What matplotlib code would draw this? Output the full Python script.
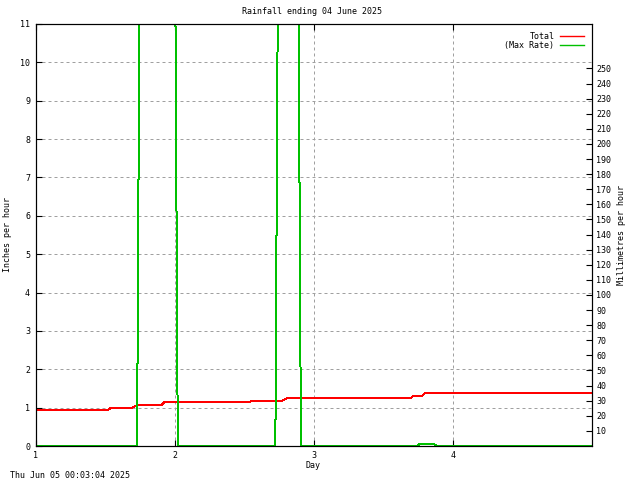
import matplotlib
matplotlib.use("Agg")
import matplotlib.pyplot as plt

# rainfall total (inches)
total_day = [1.0, 1.519, 1.534, 1.685, 1.707, 1.735, 1.901, 1.923, 2.536, 2.543,
             2.766, 2.781, 2.802, 3.697, 3.711, 3.776, 3.787, 3.797, 5.0]
total_in = [0.946, 0.946, 0.983, 0.983, 1.025, 1.061, 1.061, 1.139, 1.139, 1.165,
            1.165, 1.20, 1.24, 1.24, 1.295, 1.295, 1.33, 1.38, 1.38]

# max rate (inches per hour), peaks run off the top of the chart
rate_day = [1.0, 1.727, 1.745, 2.002, 2.020, 2.722, 2.740, 2.888, 2.906,
            3.74, 3.76, 3.86, 3.89, 5.0]
rate_in = [0, 0, 12, 12, 0, 0, 12, 12, 0, 0, 0.05, 0.05, 0, 0]

x_ticks = [1, 2, 3, 4]
y_ticks = list(range(0, 12))
mm_ticks = list(range(10, 260, 10))

title = "Rainfall ending 04 June 2025"
stamp = "Thu Jun 05 00:03:04 2025"

plt.rcParams['font.family'] = ['DejaVu Sans Mono']
plt.rcParams['font.size'] = 6

W, H = 640, 480
fig = plt.figure(figsize=(6.4, 4.8), dpi=100)
ax = fig.add_axes([36 / W, 1 - 446 / H, (592 - 36) / W, (446 - 24) / H])

ax.plot(total_day, total_in, color="#ff0000", lw=0.72, antialiased=False, label="Total")
ax.plot(rate_day, rate_in, color="#00c000", lw=0.72, antialiased=False, label="(Max Rate)")

ax.set_xlim(1, 5)
ax.set_ylim(0, 11)
ax.set_xticks(x_ticks)
ax.set_yticks(y_ticks)
ax.tick_params(direction="in", length=4.3, width=0.8, top=True, right=False)
ax.tick_params(axis="y", pad=4.3)
ax.tick_params(axis="x", pad=3.6)
ax.grid(True, color="#a0a0a0", lw=0.72, linestyle=(0, (3, 3)))
for s in ax.spines.values():
    s.set_linewidth(0.8)

ax2 = ax.twinx()
ax2.set_ylim(0, 11 * 25.4)
ax2.set_yticks(mm_ticks)
ax2.tick_params(direction="in", length=4.3, width=0.8, pad=3)
for s in ax2.spines.values():
    s.set_linewidth(0.8)

leg = ax.legend(loc="upper right", markerfirst=False, frameon=False,
                handlelength=2.8, handletextpad=0.7, labelspacing=0.0,
                borderaxespad=0.6, borderpad=0.4)
for h in leg.get_lines():
    h.set_linewidth(1.0)

fig.text(312 / W, 1 - 12 / H, title, ha="center", va="center")
fig.text(313 / W, 1 - 466 / H, "Day", ha="center", va="center")
fig.text(8 / W, 1 - 235 / H, "Inches per hour", rotation=90, ha="center", va="center")
fig.text(621 / W, 1 - 235 / H, "Millimetres per hour", rotation=90, ha="center", va="center")
fig.text(10 / W, 1 - 475 / H, stamp, ha="left", va="center")

fig.savefig("out.png", dpi=100)
